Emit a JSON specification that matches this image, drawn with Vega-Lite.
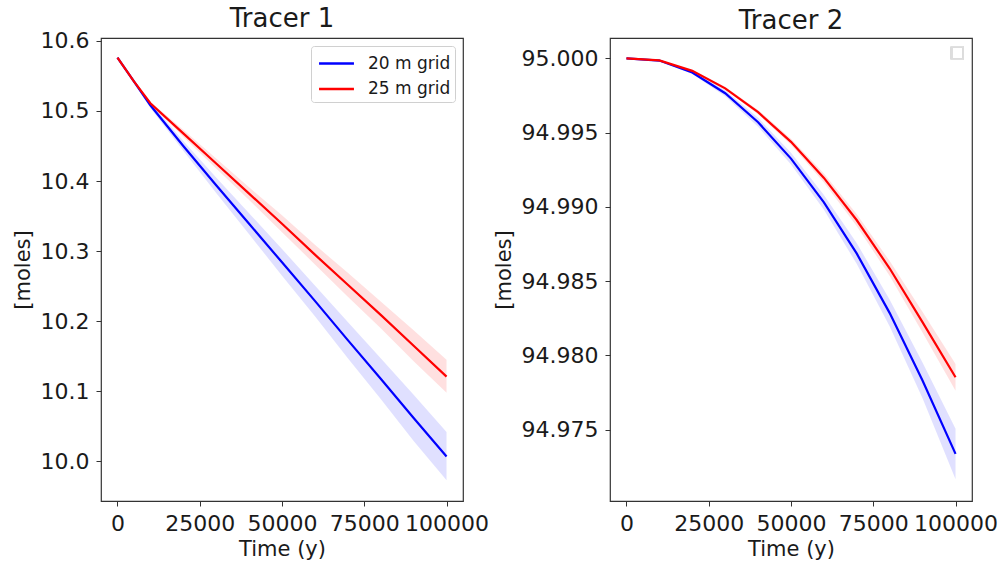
{
  "$schema": "https://vega.github.io/schema/vega-lite/v6.json",
  "background": "white",
  "padding": {"left": 11, "top": 5, "right": 5, "bottom": 5},
  "config": {
    "font": "DejaVu Sans",
    "view": {"stroke": "#333333", "strokeWidth": 1.2},
    "axis": {
      "grid": false,
      "domain": false,
      "ticks": true,
      "tickColor": "#333333",
      "tickSize": 5,
      "tickWidth": 1,
      "labelFontSize": 22,
      "labelColor": "#1a1a1a",
      "labelPadding": 7,
      "labelFlush": false,
      "labelOverlap": false,
      "titleFontSize": 21,
      "titleFontWeight": "normal",
      "titleColor": "#1a1a1a"
    },
    "title": {"fontSize": 26, "fontWeight": "normal", "anchor": "middle", "color": "#1a1a1a"},
    "legend": {
      "orient": "top-right",
      "offset": 8,
      "title": null,
      "strokeColor": "#d0d0d0",
      "fillColor": "white",
      "cornerRadius": 3,
      "padding": 4,
      "symbolType": "M-1.45,0H1.45",
      "symbolStrokeWidth": 2.5,
      "symbolSize": 580,
      "symbolOffset": 8,
      "labelFontSize": 17,
      "labelOffset": 18,
      "labelColor": "#1a1a1a",
      "rowPadding": 3.6
    }
  },
  "datasets": {
    "series": [
      {"tracer": "Tracer 1", "grid": "20 m grid", "t": 0, "moles": 10.576, "lo": 10.576, "hi": 10.576},
      {"tracer": "Tracer 1", "grid": "20 m grid", "t": 5000, "moles": 10.542, "lo": 10.540, "hi": 10.544},
      {"tracer": "Tracer 1", "grid": "20 m grid", "t": 10000, "moles": 10.508, "lo": 10.504, "hi": 10.512},
      {"tracer": "Tracer 1", "grid": "20 m grid", "t": 20000, "moles": 10.450, "lo": 10.443, "hi": 10.457},
      {"tracer": "Tracer 1", "grid": "20 m grid", "t": 30000, "moles": 10.394, "lo": 10.383, "hi": 10.405},
      {"tracer": "Tracer 1", "grid": "20 m grid", "t": 40000, "moles": 10.339, "lo": 10.324, "hi": 10.354},
      {"tracer": "Tracer 1", "grid": "20 m grid", "t": 50000, "moles": 10.284, "lo": 10.265, "hi": 10.303},
      {"tracer": "Tracer 1", "grid": "20 m grid", "t": 60000, "moles": 10.229, "lo": 10.207, "hi": 10.251},
      {"tracer": "Tracer 1", "grid": "20 m grid", "t": 70000, "moles": 10.173, "lo": 10.147, "hi": 10.199},
      {"tracer": "Tracer 1", "grid": "20 m grid", "t": 80000, "moles": 10.118, "lo": 10.089, "hi": 10.147},
      {"tracer": "Tracer 1", "grid": "20 m grid", "t": 90000, "moles": 10.062, "lo": 10.029, "hi": 10.095},
      {"tracer": "Tracer 1", "grid": "20 m grid", "t": 100000, "moles": 10.007, "lo": 9.973, "hi": 10.042},
      {"tracer": "Tracer 1", "grid": "25 m grid", "t": 0, "moles": 10.576, "lo": 10.576, "hi": 10.576},
      {"tracer": "Tracer 1", "grid": "25 m grid", "t": 5000, "moles": 10.542, "lo": 10.541, "hi": 10.543},
      {"tracer": "Tracer 1", "grid": "25 m grid", "t": 10000, "moles": 10.511, "lo": 10.509, "hi": 10.513},
      {"tracer": "Tracer 1", "grid": "25 m grid", "t": 20000, "moles": 10.468, "lo": 10.463, "hi": 10.473},
      {"tracer": "Tracer 1", "grid": "25 m grid", "t": 30000, "moles": 10.425, "lo": 10.418, "hi": 10.432},
      {"tracer": "Tracer 1", "grid": "25 m grid", "t": 40000, "moles": 10.382, "lo": 10.373, "hi": 10.391},
      {"tracer": "Tracer 1", "grid": "25 m grid", "t": 50000, "moles": 10.339, "lo": 10.327, "hi": 10.351},
      {"tracer": "Tracer 1", "grid": "25 m grid", "t": 60000, "moles": 10.295, "lo": 10.281, "hi": 10.309},
      {"tracer": "Tracer 1", "grid": "25 m grid", "t": 70000, "moles": 10.252, "lo": 10.235, "hi": 10.269},
      {"tracer": "Tracer 1", "grid": "25 m grid", "t": 80000, "moles": 10.209, "lo": 10.190, "hi": 10.228},
      {"tracer": "Tracer 1", "grid": "25 m grid", "t": 90000, "moles": 10.165, "lo": 10.143, "hi": 10.187},
      {"tracer": "Tracer 1", "grid": "25 m grid", "t": 100000, "moles": 10.121, "lo": 10.098, "hi": 10.145},
      {"tracer": "Tracer 2", "grid": "20 m grid", "t": 0, "moles": 95.00000, "lo": 95.00000, "hi": 95.00000},
      {"tracer": "Tracer 2", "grid": "20 m grid", "t": 10000, "moles": 94.99985, "lo": 94.99982, "hi": 94.99988},
      {"tracer": "Tracer 2", "grid": "20 m grid", "t": 20000, "moles": 94.99905, "lo": 94.99895, "hi": 94.99915},
      {"tracer": "Tracer 2", "grid": "20 m grid", "t": 30000, "moles": 94.99765, "lo": 94.99745, "hi": 94.99785},
      {"tracer": "Tracer 2", "grid": "20 m grid", "t": 40000, "moles": 94.99570, "lo": 94.99540, "hi": 94.99600},
      {"tracer": "Tracer 2", "grid": "20 m grid", "t": 50000, "moles": 94.99325, "lo": 94.99285, "hi": 94.99365},
      {"tracer": "Tracer 2", "grid": "20 m grid", "t": 60000, "moles": 94.99030, "lo": 94.98980, "hi": 94.99080},
      {"tracer": "Tracer 2", "grid": "20 m grid", "t": 70000, "moles": 94.98685, "lo": 94.98615, "hi": 94.98755},
      {"tracer": "Tracer 2", "grid": "20 m grid", "t": 80000, "moles": 94.98285, "lo": 94.98195, "hi": 94.98375},
      {"tracer": "Tracer 2", "grid": "20 m grid", "t": 90000, "moles": 94.97830, "lo": 94.97710, "hi": 94.97950},
      {"tracer": "Tracer 2", "grid": "20 m grid", "t": 100000, "moles": 94.97337, "lo": 94.97167, "hi": 94.97507},
      {"tracer": "Tracer 2", "grid": "25 m grid", "t": 0, "moles": 95.00000, "lo": 95.00000, "hi": 95.00000},
      {"tracer": "Tracer 2", "grid": "25 m grid", "t": 10000, "moles": 94.99986, "lo": 94.99984, "hi": 94.99988},
      {"tracer": "Tracer 2", "grid": "25 m grid", "t": 20000, "moles": 94.99916, "lo": 94.99910, "hi": 94.99922},
      {"tracer": "Tracer 2", "grid": "25 m grid", "t": 30000, "moles": 94.99798, "lo": 94.99788, "hi": 94.99808},
      {"tracer": "Tracer 2", "grid": "25 m grid", "t": 40000, "moles": 94.99638, "lo": 94.99623, "hi": 94.99653},
      {"tracer": "Tracer 2", "grid": "25 m grid", "t": 50000, "moles": 94.99438, "lo": 94.99418, "hi": 94.99458},
      {"tracer": "Tracer 2", "grid": "25 m grid", "t": 60000, "moles": 94.99195, "lo": 94.99165, "hi": 94.99225},
      {"tracer": "Tracer 2", "grid": "25 m grid", "t": 70000, "moles": 94.98910, "lo": 94.98870, "hi": 94.98950},
      {"tracer": "Tracer 2", "grid": "25 m grid", "t": 80000, "moles": 94.98585, "lo": 94.98535, "hi": 94.98635},
      {"tracer": "Tracer 2", "grid": "25 m grid", "t": 90000, "moles": 94.98223, "lo": 94.98153, "hi": 94.98293},
      {"tracer": "Tracer 2", "grid": "25 m grid", "t": 100000, "moles": 94.97853, "lo": 94.97763, "hi": 94.97943}
    ]
  },
  "spacing": 2,
  "resolve": {"scale": {"color": "independent"}, "legend": {"color": "independent"}},
  "hconcat": [
    {
      "title": {"text": "Tracer 1", "offset": -2},
      "width": 362,
      "height": 463,
      "data": {"name": "series"},
      "transform": [{"filter": "datum.tracer === 'Tracer 1'"}],
      "encoding": {
        "x": {
          "field": "t", "type": "quantitative",
          "scale": {"domain": [-5000, 105000], "nice": false, "zero": false},
          "axis": {"title": "Time (y)", "values": [0, 25000, 50000, 75000, 100000], "format": "d"}
        }
      },
      "layer": [
        {
          "mark": {"type": "area", "opacity": 0.12},
          "encoding": {
            "y": {
              "field": "lo", "type": "quantitative",
              "scale": {"domain": [9.9435, 10.604], "nice": false, "zero": false},
              "axis": {"title": "[moles]", "values": [10.0, 10.1, 10.2, 10.3, 10.4, 10.5, 10.6], "format": ".1f", "titlePadding": 7}
            },
            "y2": {"field": "hi"},
            "fill": {"field": "grid", "type": "nominal", "scale": {"domain": ["20 m grid", "25 m grid"], "range": ["#0000ff", "#ff0000"]}, "legend": null}
          }
        },
        {
          "mark": {"type": "line", "strokeWidth": 2.2},
          "encoding": {
            "y": {"field": "moles", "type": "quantitative"},
            "color": {"field": "grid", "type": "nominal", "scale": {"domain": ["20 m grid", "25 m grid"], "range": ["#0000ff", "#ff0000"]}}
          }
        }
      ]
    },
    {
      "title": {"text": "Tracer 2", "offset": 4},
      "width": 362,
      "height": 463,
      "data": {"name": "series"},
      "transform": [{"filter": "datum.tracer === 'Tracer 2'"}],
      "encoding": {
        "x": {
          "field": "t", "type": "quantitative",
          "scale": {"domain": [-5000, 105000], "nice": false, "zero": false},
          "axis": {"title": "Time (y)", "values": [0, 25000, 50000, 75000, 100000], "format": "d"}
        }
      },
      "layer": [
        {
          "mark": {"type": "area", "opacity": 0.12},
          "encoding": {
            "y": {
              "field": "lo", "type": "quantitative",
              "scale": {"domain": [94.9702, 95.00137], "nice": false, "zero": false},
              "axis": {"title": "[moles]", "values": [94.975, 94.98, 94.985, 94.99, 94.995, 95.0], "format": ".3f", "titlePadding": 7}
            },
            "y2": {"field": "hi"},
            "fill": {"field": "grid", "type": "nominal", "scale": {"domain": ["20 m grid", "25 m grid"], "range": ["#0000ff", "#ff0000"]}, "legend": null}
          }
        },
        {
          "mark": {"type": "line", "strokeWidth": 2.2},
          "encoding": {
            "y": {"field": "moles", "type": "quantitative"},
            "color": {"field": "grid", "type": "nominal", "scale": {"domain": ["20 m grid", "25 m grid"], "range": ["#0000ff", "#ff0000"]}, "legend": null}
          }
        },
        {
          "mark": {"type": "point", "shape": "square", "filled": false, "stroke": "#dddddd", "strokeWidth": 1.2, "size": 130},
          "encoding": {
            "x": {"datum": 100500, "type": "quantitative"},
            "y": {"datum": 95.00036, "type": "quantitative"}
          }
        }
      ]
    }
  ]
}
